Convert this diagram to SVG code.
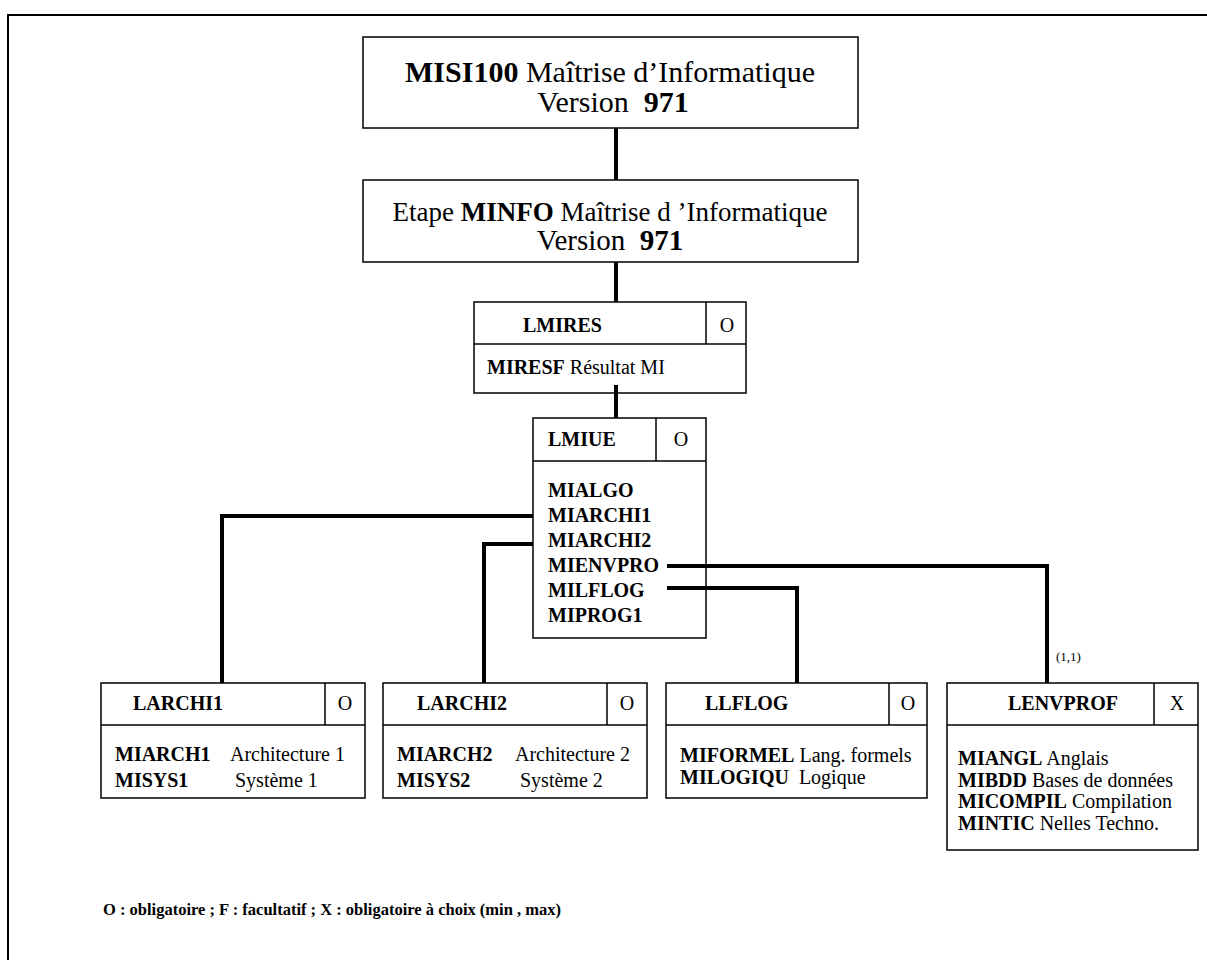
<svg xmlns="http://www.w3.org/2000/svg" width="1207" height="960" viewBox="0 0 1207 960">
<style>
.bg{fill:#fff}
.box{fill:#fff;stroke:#000;stroke-width:1.5}
.div{stroke:#000;stroke-width:1.5}
.t{font-family:"Liberation Serif","Times New Roman",serif;fill:#000;font-size:20px}
.b{font-weight:bold}
.conn{fill:none;stroke:#000;stroke-width:4}
.frame{fill:none;stroke:#000;stroke-width:2}
</style>
<rect class="bg" x="0" y="0" width="1207" height="960"/>
<path class="frame" d="M8,960 V15 H1207"/>

<g id="misi100">
  <rect class="box" x="363" y="37" width="495" height="91"/>
  <text class="t" x="610" y="82" text-anchor="middle" style="font-size:30px"><tspan class="b">MISI100</tspan> Maîtrise d’Informatique</text>
  <text class="t" x="613" y="112" text-anchor="middle" style="font-size:30px" xml:space="preserve">Version  <tspan class="b">971</tspan></text>
</g>

<g id="minfo">
  <rect class="box" x="363" y="180" width="495" height="82"/>
  <text class="t" x="610" y="221" text-anchor="middle" style="font-size:27px">Etape <tspan class="b">MINFO</tspan> Maîtrise d ’Informatique</text>
  <text class="t" x="610" y="250" text-anchor="middle" style="font-size:29px" xml:space="preserve">Version  <tspan class="b">971</tspan></text>
</g>

<g id="lmires">
  <rect class="box" x="474" y="302" width="272" height="91"/>
  <line class="div" x1="474" y1="344" x2="746" y2="344"/>
  <line class="div" x1="706" y1="302" x2="706" y2="344"/>
  <text class="t b" x="523" y="332">LMIRES</text>
  <text class="t" x="727" y="332" text-anchor="middle">O</text>
  <text class="t" x="487" y="374"><tspan class="b">MIRESF</tspan> Résultat MI</text>
</g>

<g id="lmiue">
  <rect class="box" x="533" y="418" width="173" height="220"/>
  <line class="div" x1="533" y1="461" x2="706" y2="461"/>
  <line class="div" x1="656" y1="418" x2="656" y2="461"/>
  <text class="t b" x="548" y="446">LMIUE</text>
  <text class="t" x="681" y="446" text-anchor="middle">O</text>
  <text class="t b" x="548" y="497">MIALGO</text>
  <text class="t b" x="548" y="522">MIARCHI1</text>
  <text class="t b" x="548" y="547">MIARCHI2</text>
  <text class="t b" x="548" y="572">MIENVPRO</text>
  <text class="t b" x="548" y="597">MILFLOG</text>
  <text class="t b" x="548" y="622">MIPROG1</text>
</g>

<g id="larchi1">
  <rect class="box" x="101" y="683" width="264" height="115"/>
  <line class="div" x1="101" y1="725" x2="365" y2="725"/>
  <line class="div" x1="325" y1="683" x2="325" y2="725"/>
  <text class="t b" x="133" y="710">LARCHI1</text>
  <text class="t" x="345" y="710" text-anchor="middle">O</text>
  <text class="t b" x="115" y="761">MIARCH1</text>
  <text class="t" x="230" y="761">Architecture 1</text>
  <text class="t b" x="115" y="787">MISYS1</text>
  <text class="t" x="235" y="787">Système 1</text>
</g>

<g id="larchi2">
  <rect class="box" x="383" y="683" width="264" height="115"/>
  <line class="div" x1="383" y1="725" x2="647" y2="725"/>
  <line class="div" x1="607" y1="683" x2="607" y2="725"/>
  <text class="t b" x="417" y="710">LARCHI2</text>
  <text class="t" x="627" y="710" text-anchor="middle">O</text>
  <text class="t b" x="397" y="761">MIARCH2</text>
  <text class="t" x="515" y="761">Architecture 2</text>
  <text class="t b" x="397" y="787">MISYS2</text>
  <text class="t" x="520" y="787">Système 2</text>
</g>

<g id="llflog">
  <rect class="box" x="666" y="683" width="261" height="115"/>
  <line class="div" x1="666" y1="725" x2="927" y2="725"/>
  <line class="div" x1="889" y1="683" x2="889" y2="725"/>
  <text class="t b" x="705" y="710">LLFLOG</text>
  <text class="t" x="908" y="710" text-anchor="middle">O</text>
  <text class="t" x="680" y="762"><tspan class="b">MIFORMEL</tspan> Lang. formels</text>
  <text class="t" x="680" y="784" xml:space="preserve"><tspan class="b">MILOGIQU</tspan>  Logique</text>
</g>

<g id="lenvprof">
  <rect class="box" x="947" y="683" width="251" height="167"/>
  <line class="div" x1="947" y1="725" x2="1198" y2="725"/>
  <line class="div" x1="1154" y1="683" x2="1154" y2="725"/>
  <text class="t b" x="1063" y="710" text-anchor="middle">LENVPROF</text>
  <text class="t" x="1177" y="710" text-anchor="middle">X</text>
  <text class="t" x="958" y="765"><tspan class="b">MIANGL</tspan> Anglais</text>
  <text class="t" x="958" y="787"><tspan class="b">MIBDD</tspan> Bases de données</text>
  <text class="t" x="958" y="808"><tspan class="b">MICOMPIL</tspan> Compilation</text>
  <text class="t" x="958" y="830"><tspan class="b">MINTIC</tspan> Nelles Techno.</text>
</g>

<g id="connectors">
  <line class="conn" x1="616" y1="128" x2="616" y2="180"/>
  <line class="conn" x1="616" y1="262" x2="616" y2="302"/>
  <line class="conn" x1="616" y1="385" x2="616" y2="418"/>
  <polyline class="conn" points="533,516 222,516 222,683"/>
  <polyline class="conn" points="533,544 484,544 484,683"/>
  <polyline class="conn" points="667,566 1047,566 1047,683"/>
  <polyline class="conn" points="667,588 797,588 797,683"/>
  <text class="t" x="1056" y="661" style="font-size:13px">(1,1)</text>
</g>

<g id="legend">
  <text class="t b" x="103" y="915" style="font-size:16.5px">O : obligatoire ; F : facultatif ; X : obligatoire à choix (min , max)</text>
</g>
</svg>
